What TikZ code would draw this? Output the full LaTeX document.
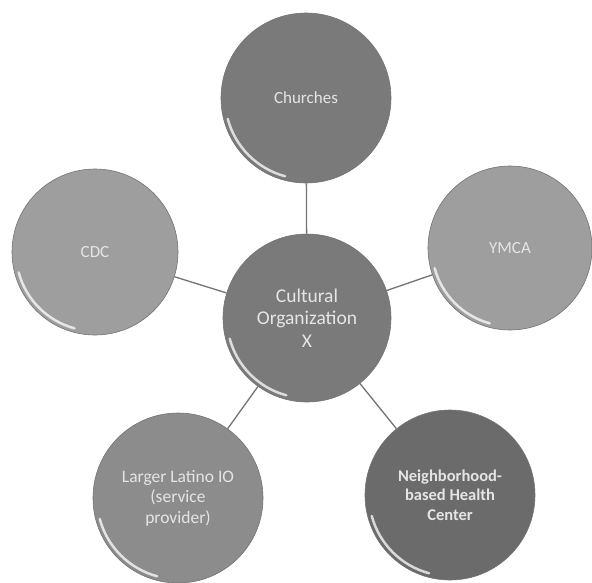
\documentclass[tikz,border=0pt]{standalone}
\usepackage{fontspec}
\setmainfont{Carlito}
\usetikzlibrary{calc}
\begin{document}
\begin{tikzpicture}[x=1pt,y=-1pt,
  ball/.style={circle,draw=black!55,line width=0.6pt,minimum size=#1,inner sep=0pt,align=center,text=black!10,font=\fontsize{17}{21}\selectfont},
  link/.style={draw=black!55,line width=1.3pt}]
\useasboundingbox (0,0) rectangle (592,582);
\fill[white] (0,0) rectangle (592,582);
% nodes
\node[ball=168pt,fill=black!52,font=\fontsize{19.5}{22.5}\selectfont] (c) at (307,318) {Cultural\\Organization\\X};
\node[ball=170pt,fill=black!52] (ch) at (306,98) {Churches};
\node[ball=166pt,fill=black!38] (cdc) at (95,252) {CDC};
\node[ball=164pt,fill=black!38] (ym) at (510,248) {YMCA};
\node[ball=170pt,fill=black!45,font=\fontsize{17.5}{20.5}\selectfont] (la) at (178,498) {Larger Latino IO\\(service\\provider)};
\node[ball=170pt,fill=black!58,font=\bfseries\fontsize{16.5}{19.5}\selectfont] (nb) at (450,495) {Neighborhood-\\based Health\\Center};
% connectors
\draw[link] (c) -- (ch);
\draw[link] (c) -- (cdc);
\draw[link] (c) -- (ym);
\draw[link] (c) -- (la);
\draw[link] (c) -- (nb);
% highlights
\foreach \n/\r in {c/84,ch/85,cdc/83,ym/82,la/85,nb/85}{
  \draw[white,opacity=0.75,line width=2.5pt,line cap=round]
    ($(\n.center)+(105:\r-4)$) arc[start angle=105,end angle=165,radius=\r-4];
}
\end{tikzpicture}
\end{document}
